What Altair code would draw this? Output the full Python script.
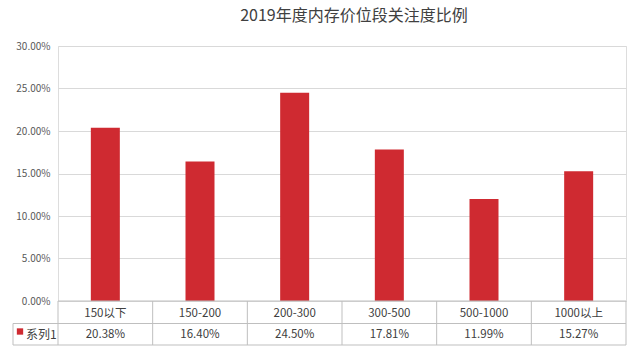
import altair as alt
import pandas as pd

categories = ["150以下", "150-200", "200-300", "300-500", "500-1000", "1000以上"]
values = [0.2038, 0.1640, 0.2450, 0.1781, 0.1199, 0.1527]
value_labels = ["20.38%", "16.40%", "24.50%", "17.81%", "11.99%", "15.27%"]
series_name = "系列1"
title_text = "2019年度内存价位段关注度比例"

df = pd.DataFrame({"cat": categories, "val": values, "lab": value_labels})
one = pd.DataFrame({"name": [series_name]})

W, H = 568, 255
FONT = "Noto Sans CJK SC"
BAR = "#cf2a31"
BORDER = "#bfbfbf"
TXT = "#404040"

xs = alt.Scale(domain=categories, paddingInner=0, paddingOuter=0)

base = alt.Chart(df)
single = alt.Chart(one)

bars = base.mark_bar(size=29, color=BAR).encode(
    x=alt.X("cat:N", scale=xs, sort=categories, axis=None),
    y=alt.Y("val:Q", scale=alt.Scale(domain=[0, 0.30]),
            axis=alt.Axis(format=".2%", values=[0, 0.05, 0.10, 0.15, 0.20, 0.25, 0.30],
                          title=None, domain=False, ticks=False, labelPadding=8,
                          labelFontSize=10, labelColor="#595959", labelFont=FONT,
                          gridColor="#d9d9d9", gridWidth=1)),
)

cat_text = base.mark_text(font=FONT, fontSize=11.5, color=TXT).encode(
    x=alt.X("cat:N", scale=xs, sort=categories, axis=None),
    y=alt.value(268),
    text="cat:N",
)
val_text = base.mark_text(font=FONT, fontSize=11.5, color=TXT).encode(
    x=alt.X("cat:N", scale=xs, sort=categories, axis=None),
    y=alt.value(289),
    text="lab:N",
)
vlines = base.mark_rule(color=BORDER, strokeWidth=1).encode(
    x=alt.X("cat:N", scale=xs, sort=categories, axis=None, bandPosition=0),
    y=alt.value(255),
    y2=alt.value(299),
)
right_edge = single.mark_rule(color=BORDER).encode(
    x=alt.value(W), y=alt.value(255), y2=alt.value(299)
)
hline_top = single.mark_rule(color=BORDER).encode(
    x=alt.value(0), x2=alt.value(W), y=alt.value(255)
)
hline_mid = single.mark_rule(color=BORDER).encode(
    x=alt.value(-45), x2=alt.value(W), y=alt.value(277.5)
)
hline_bot = single.mark_rule(color=BORDER).encode(
    x=alt.value(-45), x2=alt.value(W), y=alt.value(299)
)
left_edge = single.mark_rule(color=BORDER).encode(
    x=alt.value(-45), y=alt.value(277.5), y2=alt.value(299)
)
legend_sq = single.mark_square(color=BAR, size=40, opacity=1, filled=True).encode(
    x=alt.value(-38), y=alt.value(285.5)
)
legend_txt = single.mark_text(font=FONT, fontSize=12, color=TXT, align="left").encode(
    x=alt.value(-32), y=alt.value(289), text="name:N"
)

chart = alt.layer(
    bars, hline_top, hline_mid, hline_bot, vlines, right_edge, left_edge,
    cat_text, val_text, legend_sq, legend_txt
).properties(
    width=W, height=H,
    title=alt.TitleParams(title_text, font=FONT, fontSize=16, fontWeight="normal",
                          color="#404040", anchor="middle", offset=17, dx=12),
    autosize=alt.AutoSizeParams(type="none"),
    padding={"left": 58, "top": 46, "right": 14, "bottom": 51},
).configure_view(stroke=None).configure(background="white")

chart.save("out.html", embed_options={"renderer": "svg", "actions": False})
